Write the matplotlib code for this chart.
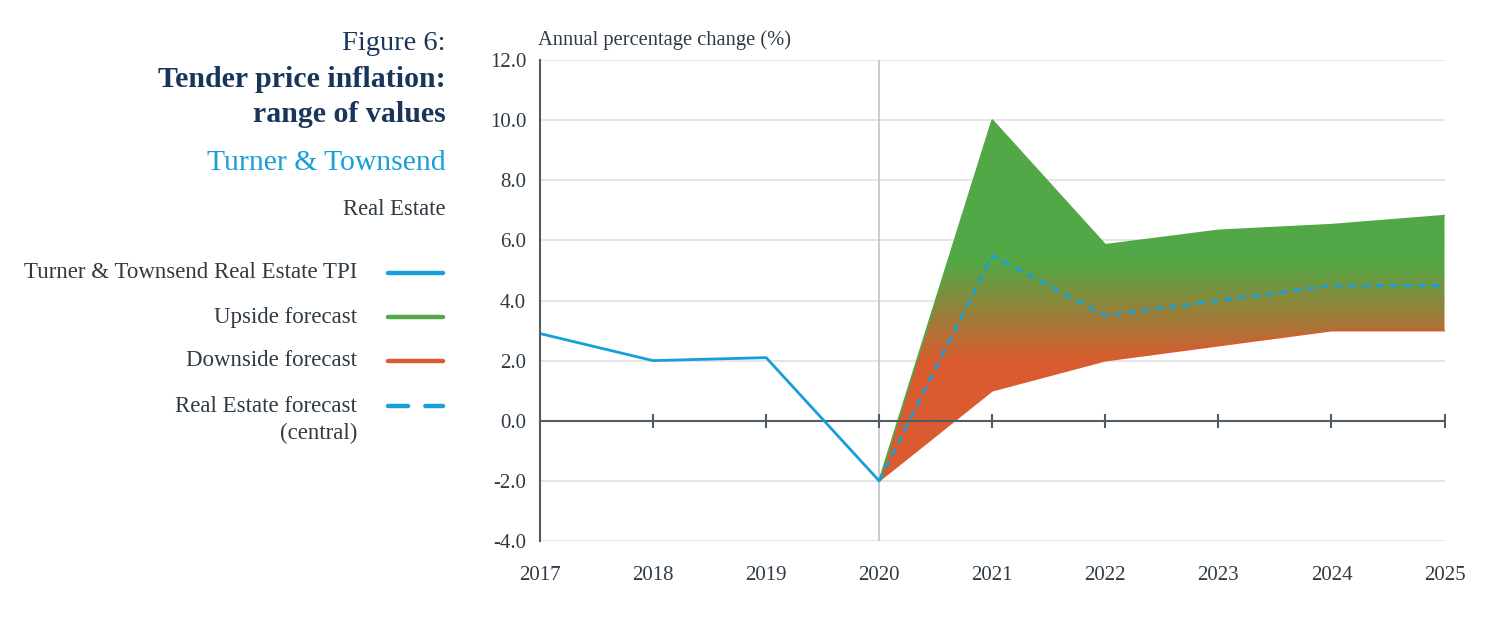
import numpy as np
import matplotlib
matplotlib.use("Agg")
import matplotlib.pyplot as plt
from matplotlib.colors import LinearSegmentedColormap
from matplotlib.lines import Line2D

# data
years = [2017, 2018, 2019, 2020, 2021, 2022, 2023, 2024, 2025]
tpi_years = [2017, 2018, 2019, 2020]
tpi = [2.9, 2.0, 2.1, -2.0]
fc_years = [2020, 2021, 2022, 2023, 2024, 2025]
upside = [-2.0, 10.0, 5.85, 6.33, 6.52, 6.82]
downside = [-2.0, 1.0, 2.0, 2.5, 3.0, 3.0]
central = [-2.0, 5.5, 3.5, 4.0, 4.5, 4.5]
yticks = [-4.0, -2.0, 0.0, 2.0, 4.0, 6.0, 8.0, 10.0, 12.0]

BLUE = "#169fd9"
GREEN = "#52a846"
ORANGE = "#d95b2f"
NAVY = "#19365a"
TXT = "#2e3a44"
AXC = "#525c64"
GRID = "#e0e0e0"

plt.rcParams['font.family'] = ['Liberation Serif', 'DejaVu Serif']

fig = plt.figure(figsize=(15, 6.18), dpi=100)
ax = fig.add_axes([0.36, 0.1246, 0.603, 0.7783])

ax.set_xlim(2017, 2025)
ax.set_ylim(-4, 12)

# grid
for y in yticks:
    if y != 0:
        ax.axhline(y, color=GRID, lw=1.2, zorder=0)
ax.axvline(2020, color="#bfc3c6", lw=1.2, zorder=0)

# gradient fill between downside and upside
poly = ax.fill_between(fc_years, downside, upside, facecolor="none", edgecolor="none")
# orange below 2.0, green above 5.3
ys = np.linspace(-4, 12, 256)
vals = np.clip((ys - 2.0) / (5.3 - 2.0), 0, 1).reshape(-1, 1)
cmap = LinearSegmentedColormap.from_list("g2o", [ORANGE, GREEN])
im = ax.imshow(vals, cmap=cmap, aspect="auto", origin="lower",
               extent=[2017, 2025, -4, 12], zorder=1, interpolation="bilinear")
im.set_clip_path(poly.get_paths()[0], transform=ax.transData)

ax.plot(fc_years, upside, color=GREEN, lw=1.3, zorder=2)
ax.plot(fc_years, downside, color=ORANGE, lw=1.3, zorder=2)
ax.plot(tpi_years, tpi, color=BLUE, lw=2.0, zorder=4, solid_capstyle="round")
ax.plot(fc_years, central, color=BLUE, lw=2.0, ls=(0, (3, 2)), zorder=4)

# zero axis with tick marks
ax.axhline(0, color=AXC, lw=1.5, zorder=3)
ax.plot(years, [0] * len(years), ls="none", marker="|", ms=10, mew=1.5,
        color=AXC, zorder=3)

for s in ["top", "right", "bottom"]:
    ax.spines[s].set_visible(False)
ax.spines["left"].set_color(AXC)
ax.spines["left"].set_linewidth(1.5)
ax.spines["left"].set_zorder(5)

ax.set_yticks(yticks)
ax.set_yticklabels([f"{v:.1f}" for v in yticks])
ax.set_xticks(years)
ax.set_xticklabels([str(y) for y in years])
ax.tick_params(axis="y", length=0, pad=10, labelsize=15, labelcolor=TXT)
ax.tick_params(axis="x", length=0, pad=18, labelsize=15, labelcolor=TXT)

fig.text(0.359, 0.935, "Annual percentage change (%)", fontsize=14.8, color=TXT,
         ha="left", va="center")

# title block
fig.text(0.297, 0.929, "Figure 6:", fontsize=20.5, color=NAVY, ha="right", va="center")
fig.text(0.297, 0.872, "Tender price inflation:", fontsize=21.5, color=NAVY,
         ha="right", va="center", fontweight="bold")
fig.text(0.297, 0.815, "range of values", fontsize=21.5, color=NAVY,
         ha="right", va="center", fontweight="bold")
fig.text(0.297, 0.736, "Turner & Townsend", fontsize=21.3, color=BLUE,
         ha="right", va="center")
fig.text(0.297, 0.661, "Real Estate", fontsize=16.3, color=TXT,
         ha="right", va="center")

# legend drawn by hand: label right-aligned, line to the right
legend_rows = [
    ("Turner & Townsend Real Estate TPI", BLUE, "-", 273),
    ("Upside forecast", GREEN, "-", 317),
    ("Downside forecast", ORANGE, "-", 361),
    ("Real Estate forecast", BLUE, "--", 406),
]
for label, col, ls, ypx in legend_rows:
    yf = 1 - ypx / 618
    fig.text(0.238, yf, label, fontsize=16.5, color=TXT, ha="right", va="center")
    dash = (0, (4.5, 3.9)) if ls == "--" else "-"
    fig.add_artist(Line2D([0.2585, 0.2955], [yf, yf], color=col, lw=3.2,
                          ls=dash, solid_capstyle="round", dash_capstyle="round",
                          transform=fig.transFigure))
fig.text(0.238, 1 - 433 / 618, "(central)", fontsize=16.5, color=TXT,
         ha="right", va="center")

fig.savefig("out.png", dpi=100, facecolor="white")
